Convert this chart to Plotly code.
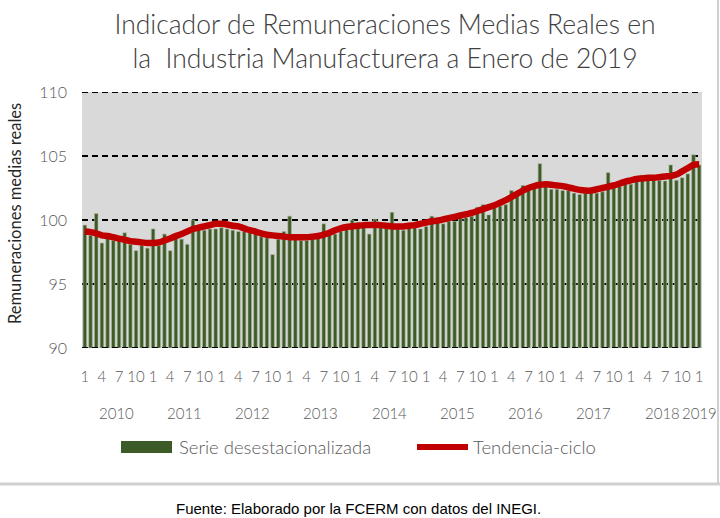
import plotly.graph_objects as go

# Monthly series Jan 2010 - Jan 2019
years = ["2010", "2011", "2012", "2013", "2014", "2015", "2016", "2017", "2018", "2019"]
month_ticks = ["1", "4", "7", "10"]
y_ticks = [90, 95, 100, 105, 110]
legend_names = ["Serie desestacionalizada", "Tendencia-ciclo"]

serie = [
    99.6, 98.8, 100.5, 98.2, 98.6, 98.4, 98.4, 99.0, 98.1, 97.6, 98.0, 97.8,
    99.3, 98.0, 98.9, 97.6, 98.6, 98.5, 98.1, 100.0, 99.6, 99.2, 99.3, 99.3,
    99.4, 99.3, 99.2, 99.1, 99.1, 99.0, 99.3, 98.7, 98.6, 97.3, 98.5, 99.1,
    100.3, 98.5, 98.4, 98.4, 98.6, 98.75, 99.7, 98.9, 98.9, 99.1, 99.3, 100.0,
    99.8, 99.5, 98.9, 100.05, 99.8, 99.4, 100.6, 99.3, 99.2, 99.5, 99.6, 99.3,
    99.5, 100.3, 100.2, 99.7, 99.9, 99.9, 100.5, 100.2, 100.3, 101.0, 101.2, 100.4,
    101.0, 101.1, 101.2, 102.3, 101.95, 102.7, 102.3, 102.5, 104.4, 103.0, 102.4, 102.4,
    102.3, 102.3, 102.1, 102.0, 102.1, 102.2, 102.1, 102.2, 103.7, 102.5, 102.65, 102.85,
    102.8, 103.0, 103.5, 103.4, 103.1, 103.1, 103.05, 104.3, 103.1, 103.3, 103.6, 105.1,
    104.3,
]

tendencia = [
    99.1, 99.05, 98.95, 98.8, 98.75, 98.65, 98.55, 98.45, 98.35, 98.3, 98.25, 98.2,
    98.2, 98.25, 98.4, 98.55, 98.75, 98.9, 99.1, 99.3, 99.4, 99.5, 99.6, 99.7,
    99.7, 99.65, 99.55, 99.5, 99.35, 99.2, 99.1, 98.95, 98.85, 98.8, 98.75, 98.7,
    98.65, 98.65, 98.65, 98.65, 98.7, 98.75, 98.85, 99.0, 99.2, 99.35, 99.45, 99.5,
    99.55, 99.6, 99.6, 99.6, 99.6, 99.55, 99.5, 99.5, 99.5, 99.55, 99.6, 99.7,
    99.8, 99.9, 99.95, 100.05, 100.15, 100.25, 100.35, 100.45, 100.55, 100.7, 100.85, 101.0,
    101.15, 101.35, 101.55, 101.8, 102.05, 102.3, 102.5, 102.65, 102.75, 102.8, 102.75, 102.7,
    102.65, 102.55, 102.45, 102.35, 102.3, 102.3, 102.4, 102.5, 102.6, 102.7, 102.85, 103.0,
    103.1, 103.2, 103.25, 103.3, 103.3, 103.35, 103.4, 103.45, 103.55, 103.8, 104.05, 104.3,
    104.35,
]

n = len(serie)
x = list(range(n))
tickvals = [i for i in x if i % 3 == 0]
ticktext = [month_ticks[(i % 12) // 3] for i in tickvals]

GREEN = "#3d5b26"
RED = "#c00000"
TXT = "#595959"
FONT = "Lato"

fig = go.Figure()
fig.add_trace(go.Bar(
    x=x, y=[v - 90 for v in serie], base=90,
    name=legend_names[0], showlegend=False,
    marker=dict(color=GREEN, line=dict(color="#a9b79c", width=0.6)),
    width=0.62,
))
fig.add_trace(go.Scatter(
    x=x, y=tendencia, mode="lines", name=legend_names[1], showlegend=False,
    line=dict(color=RED, width=6.5, shape="spline"),
))

H_PLOT = 256.0
W_PLOT = 620.0


def px(xp):
    return (xp - 82) / W_PLOT


def py(yp):
    return (348 - yp) / H_PLOT


annotations = []
for yi, yr in enumerate(years):
    idx = [i for i in x if i // 12 == yi]
    cx = (idx[0] + idx[-1]) / 2.0
    annotations.append(dict(
        x=cx, y=py(413), xref="x", yref="paper",
        text=yr, showarrow=False, xanchor="center", yanchor="middle",
        font=dict(family=FONT, size=15, color=TXT, weight=300),
    ))
annotations.append(dict(
    x=px(15), y=py(214), xref="paper", yref="paper",
    text="Remuneraciones medias reales", textangle=-90, showarrow=False,
    xanchor="center", yanchor="middle",
    font=dict(family=FONT, size=16.5, color="#262626"),
))
annotations.append(dict(
    x=px(358), y=py(508), xref="paper", yref="paper",
    text="Fuente: Elaborado por la FCERM con datos del INEGI.", showarrow=False,
    xanchor="center", yanchor="middle",
    font=dict(family="Liberation Sans", size=15, color="#000000"),
))
# legend (drawn manually to match the wide swatches)
annotations.append(dict(
    x=px(177), y=py(447), xref="paper", yref="paper", text=legend_names[0],
    showarrow=False, xanchor="left", yanchor="middle",
    font=dict(family=FONT, size=18.5, color=TXT, weight=300),
))
annotations.append(dict(
    x=px(471), y=py(447), xref="paper", yref="paper", text=legend_names[1],
    showarrow=False, xanchor="left", yanchor="middle",
    font=dict(family=FONT, size=18.5, color=TXT, weight=300),
))

grid_shapes = [
    dict(type="line", xref="paper", yref="y", x0=0, x1=1, y0=v, y1=v, layer="above",
         line=dict(color="#000000", width=1.8, dash="6px,4px"))
    for v in (y_ticks[0], y_ticks[-1])
]
legend_shapes = [
    dict(type="rect", xref="paper", yref="paper", x0=px(121), x1=px(172),
         y0=py(453), y1=py(441), fillcolor=GREEN, line=dict(width=0)),
    dict(type="line", xref="paper", yref="paper", x0=px(417), x1=px(468),
         y0=py(447), y1=py(447), line=dict(color=RED, width=6)),
]
frame_shapes = [
    dict(type="line", xref="paper", yref="paper", x0=px(0), x1=px(720),
         y0=py(484), y1=py(484), line=dict(color="#d0d0d0", width=3)),
    dict(type="line", xref="paper", yref="paper", x0=px(718), x1=px(718),
         y0=py(484), y1=py(0), line=dict(color="#d0d0d0", width=2)),
]

fig.update_layout(
    width=720, height=518,
    margin=dict(l=82, r=18, t=92, b=170),
    paper_bgcolor="white", plot_bgcolor="#d9d9d9",
    title=dict(
        text="Indicador de Remuneraciones Medias Reales en<br>la\u00a0 Industria Manufacturera a Enero de 2019",
        x=385 / 720.0, xanchor="center", y=1 - 34 / 518.0, yanchor="middle",
        font=dict(family=FONT, size=26.5, color="#404040", weight=300),
    ),
    showlegend=False,
    annotations=annotations,
    shapes=grid_shapes + legend_shapes + frame_shapes,
)
fig.update_xaxes(
    range=[-0.5, n - 0.5], tickmode="array", tickvals=tickvals, ticktext=ticktext,
    showgrid=False, zeroline=False, showline=False, ticks="",
    ticklabelstandoff=18, tickangle=0,
    tickfont=dict(family=FONT, size=15, color=TXT, weight=300),
)
fig.update_yaxes(
    range=[90, 110], tickvals=y_ticks,
    showgrid=True, gridcolor="#000000", gridwidth=1.8, griddash="6px,4px",
    zeroline=False, showline=False, ticks="", ticklabelstandoff=14,
    tickfont=dict(family=FONT, size=16, color=TXT, weight=300),
)

fig.write_html("out.html", config={"displayModeBar": False},
               post_script="document.body.style.margin='0px';")
